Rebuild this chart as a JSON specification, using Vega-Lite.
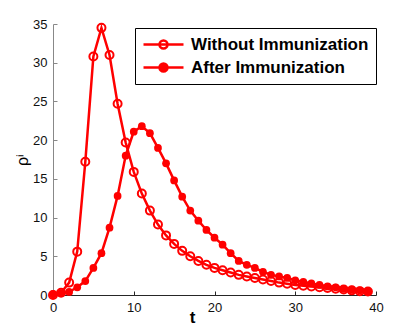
{
  "$schema": "https://vega.github.io/schema/vega-lite/v6.json",
  "autosize": "none",
  "width": 323,
  "height": 271,
  "padding": {"left": 53, "top": 24, "right": 39, "bottom": 37},
  "background": "white",
  "config": {
    "view": {"stroke": null},
    "font": "Liberation Sans",
    "axis": {"grid": false, "labelFont": "Liberation Sans", "labelFontSize": 13, "labelColor": "#111111", "titleFont": "Liberation Sans"}
  },
  "data": {"values": [
    {"t":0,"rho":0.0,"series":"Without Immunization"},
    {"t":1,"rho":0.3,"series":"Without Immunization"},
    {"t":2,"rho":1.6,"series":"Without Immunization"},
    {"t":3,"rho":5.6,"series":"Without Immunization"},
    {"t":4,"rho":17.2,"series":"Without Immunization"},
    {"t":5,"rho":30.8,"series":"Without Immunization"},
    {"t":6,"rho":34.5,"series":"Without Immunization"},
    {"t":7,"rho":31.0,"series":"Without Immunization"},
    {"t":8,"rho":24.7,"series":"Without Immunization"},
    {"t":9,"rho":19.7,"series":"Without Immunization"},
    {"t":10,"rho":15.9,"series":"Without Immunization"},
    {"t":11,"rho":13.1,"series":"Without Immunization"},
    {"t":12,"rho":10.9,"series":"Without Immunization"},
    {"t":13,"rho":9.1,"series":"Without Immunization"},
    {"t":14,"rho":7.7,"series":"Without Immunization"},
    {"t":15,"rho":6.6,"series":"Without Immunization"},
    {"t":16,"rho":5.7,"series":"Without Immunization"},
    {"t":17,"rho":5.0,"series":"Without Immunization"},
    {"t":18,"rho":4.4,"series":"Without Immunization"},
    {"t":19,"rho":3.9,"series":"Without Immunization"},
    {"t":20,"rho":3.5,"series":"Without Immunization"},
    {"t":21,"rho":3.2,"series":"Without Immunization"},
    {"t":22,"rho":2.9,"series":"Without Immunization"},
    {"t":23,"rho":2.6,"series":"Without Immunization"},
    {"t":24,"rho":2.4,"series":"Without Immunization"},
    {"t":25,"rho":2.2,"series":"Without Immunization"},
    {"t":26,"rho":2.0,"series":"Without Immunization"},
    {"t":27,"rho":1.8,"series":"Without Immunization"},
    {"t":28,"rho":1.6,"series":"Without Immunization"},
    {"t":29,"rho":1.45,"series":"Without Immunization"},
    {"t":30,"rho":1.3,"series":"Without Immunization"},
    {"t":31,"rho":1.2,"series":"Without Immunization"},
    {"t":32,"rho":1.1,"series":"Without Immunization"},
    {"t":33,"rho":1.0,"series":"Without Immunization"},
    {"t":34,"rho":0.9,"series":"Without Immunization"},
    {"t":35,"rho":0.8,"series":"Without Immunization"},
    {"t":36,"rho":0.7,"series":"Without Immunization"},
    {"t":37,"rho":0.6,"series":"Without Immunization"},
    {"t":38,"rho":0.5,"series":"Without Immunization"},
    {"t":39,"rho":0.45,"series":"Without Immunization"},
    {"t":0,"rho":0.1,"series":"After Immunization"},
    {"t":1,"rho":0.25,"series":"After Immunization"},
    {"t":2,"rho":0.4,"series":"After Immunization"},
    {"t":3,"rho":1.0,"series":"After Immunization"},
    {"t":4,"rho":1.8,"series":"After Immunization"},
    {"t":5,"rho":3.5,"series":"After Immunization"},
    {"t":6,"rho":5.4,"series":"After Immunization"},
    {"t":7,"rho":8.7,"series":"After Immunization"},
    {"t":8,"rho":12.8,"series":"After Immunization"},
    {"t":9,"rho":18.0,"series":"After Immunization"},
    {"t":10,"rho":21.1,"series":"After Immunization"},
    {"t":11,"rho":21.8,"series":"After Immunization"},
    {"t":12,"rho":20.9,"series":"After Immunization"},
    {"t":13,"rho":19.0,"series":"After Immunization"},
    {"t":14,"rho":17.0,"series":"After Immunization"},
    {"t":15,"rho":14.8,"series":"After Immunization"},
    {"t":16,"rho":12.7,"series":"After Immunization"},
    {"t":17,"rho":10.9,"series":"After Immunization"},
    {"t":18,"rho":9.6,"series":"After Immunization"},
    {"t":19,"rho":8.4,"series":"After Immunization"},
    {"t":20,"rho":7.4,"series":"After Immunization"},
    {"t":21,"rho":6.5,"series":"After Immunization"},
    {"t":22,"rho":5.4,"series":"After Immunization"},
    {"t":23,"rho":4.4,"series":"After Immunization"},
    {"t":24,"rho":3.9,"series":"After Immunization"},
    {"t":25,"rho":3.5,"series":"After Immunization"},
    {"t":26,"rho":3.0,"series":"After Immunization"},
    {"t":27,"rho":2.6,"series":"After Immunization"},
    {"t":28,"rho":2.4,"series":"After Immunization"},
    {"t":29,"rho":2.2,"series":"After Immunization"},
    {"t":30,"rho":1.9,"series":"After Immunization"},
    {"t":31,"rho":1.7,"series":"After Immunization"},
    {"t":32,"rho":1.5,"series":"After Immunization"},
    {"t":33,"rho":1.3,"series":"After Immunization"},
    {"t":34,"rho":1.1,"series":"After Immunization"},
    {"t":35,"rho":1.0,"series":"After Immunization"},
    {"t":36,"rho":0.8,"series":"After Immunization"},
    {"t":37,"rho":0.7,"series":"After Immunization"},
    {"t":38,"rho":0.6,"series":"After Immunization"},
    {"t":39,"rho":0.5,"series":"After Immunization"}
  ]},
  "encoding": {
    "x": {"field": "t", "type": "quantitative", "scale": {"domain": [0, 40], "nice": false},
      "axis": {"values": [0,10,20,30,40], "title": "t", "titleFontWeight": "bold", "titleFontSize": 17, "titleX": 139, "titleY": 27, "titleBaseline": "alphabetic", "domainColor": "#262626", "tickColor": "#262626", "tickSize": -4, "labelPadding": 10, "labelFlush": false}},
    "y": {"field": "rho", "type": "quantitative", "scale": {"domain": [0, 35], "nice": false},
      "axis": {"values": [0,5,10,15,20,25,30,35], "title": "ρⁱ", "titleFontSize": 16, "titleFontWeight": "normal", "titlePadding": 2, "domainColor": "#888888", "tickColor": "#888888", "tickSize": -4, "labelPadding": 10, "labelFlush": false}}
  },
  "layer": [
    {
      "mark": {"type": "line", "strokeWidth": 2.5, "color": "#ff0000"},
      "encoding": {
        "detail": {"field": "series"},
        "color": {"field": "series", "type": "nominal",
          "scale": {"domain": ["Without Immunization", "After Immunization"], "range": ["#ff0000", "#ff0000"]},
          "legend": {"orient": "none", "legendX": 82, "legendY": 4, "title": null,
            "strokeColor": "black", "fillColor": "white", "padding": 7,
            "symbolType": "M-2.5,0H2.5M0.5,0A0.5,0.5 0 1,1 -0.5,0A0.5,0.5 0 1,1 0.5,0",
            "symbolSize": 256, "symbolStrokeWidth": 2.5, "symbolStrokeColor": "#ff0000", "symbolOffset": 12,
            "labelFont": "Liberation Sans", "labelFontWeight": "bold", "labelFontSize": 17, "labelColor": "black", "labelOffset": 18, "rowPadding": 4, "labelLimit": 300,
            "encode": {"symbols": {"update": {"fill": {"signal": "datum.value === 'After Immunization' ? '#ff0000' : 'transparent'"}, "stroke": {"value": "#ff0000"}}}}}
        }
      }
    },
    {
      "transform": [{"filter": "datum.series === 'Without Immunization'"}],
      "mark": {"type": "point", "shape": "circle", "filled": false, "size": 64, "strokeWidth": 2, "color": "#ff0000", "opacity": 1}
    },
    {
      "transform": [{"filter": "datum.series === 'After Immunization'"}],
      "mark": {"type": "point", "shape": "circle", "filled": true, "size": 60, "color": "#ff0000", "opacity": 1}
    }
  ]
}
